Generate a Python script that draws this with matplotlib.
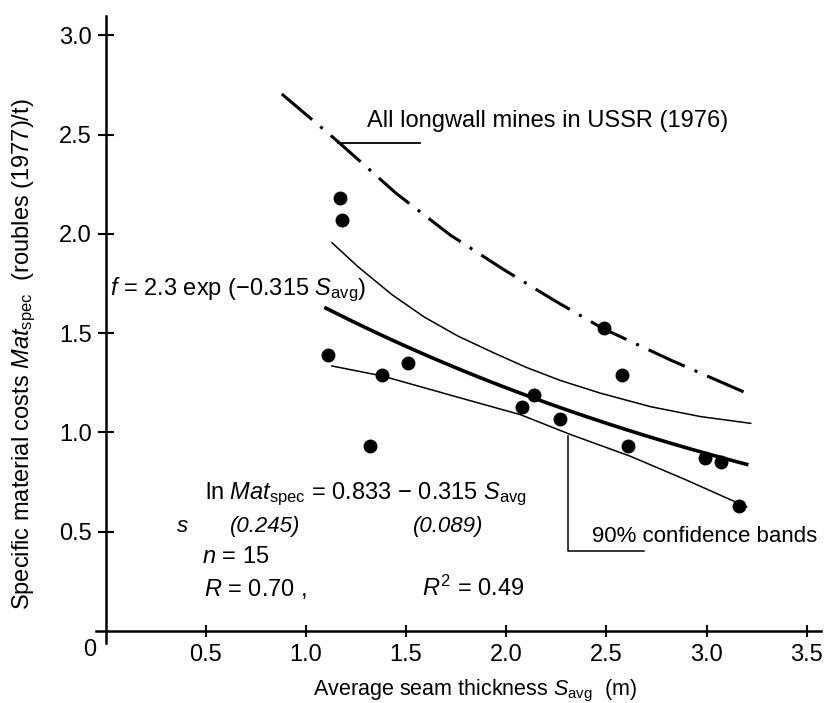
import numpy as np
import matplotlib
matplotlib.use("Agg")
import matplotlib.pyplot as plt

plt.rcParams["font.family"] = ["Liberation Sans", "DejaVu Sans"]
plt.rcParams["font.size"] = 17
plt.rcParams["mathtext.fontset"] = "custom"
plt.rcParams["mathtext.rm"] = "Liberation Sans"
plt.rcParams["mathtext.it"] = "Liberation Sans:italic"
plt.rcParams["mathtext.bf"] = "Liberation Sans:bold"

# %%
# mine observations: seam thickness (m) vs specific material costs
seam_thickness = [1.11, 1.17, 1.18, 1.32, 1.38, 1.51, 2.08, 2.14, 2.27,
                  2.49, 2.58, 2.61, 2.99, 3.07, 3.16]
material_costs = [1.39, 2.18, 2.07, 0.93, 1.29, 1.35, 1.13, 1.19, 1.07,
                  1.525, 1.29, 0.93, 0.87, 0.85, 0.63]

# fitted curve f = a exp(-b S_avg)
fit_a = 2.3
fit_b = 0.315
fit_range = (1.1, 3.2)

# 90% confidence bands
upper_x = [1.13, 1.26, 1.43, 1.59, 1.76, 1.94, 2.10, 2.27, 2.47, 2.72, 2.97, 3.22]
upper_y = [1.956, 1.835, 1.694, 1.582, 1.485, 1.400, 1.328, 1.262, 1.198, 1.130, 1.080, 1.046]
lower_x = [1.13, 1.38, 1.75, 2.07, 2.32, 2.62, 2.9, 3.2]
lower_y = [1.335, 1.285, 1.18, 1.09, 0.99, 0.88, 0.76, 0.625]

# all longwall mines in USSR (1976)
ussr_x = [0.88, 1.15, 1.45, 1.72, 1.99, 2.24, 2.48, 2.82, 3.22]
ussr_y = [2.705, 2.474, 2.205, 1.995, 1.819, 1.665, 1.525, 1.365, 1.189]

x_ticks = [0.5, 1.0, 1.5, 2.0, 2.5, 3.0, 3.5]
y_ticks = [0.5, 1.0, 1.5, 2.0, 2.5, 3.0]

# %%
fig = plt.figure(figsize=(8.27, 7.03), dpi=100)
ax = fig.add_axes([0.1155, 0.0855, 0.877, 0.8923])

s_fit = np.linspace(fit_range[0], fit_range[1], 100)
ax.plot(s_fit, fit_a * np.exp(-fit_b * s_fit), color="black", lw=2.6)
ax.plot(upper_x, upper_y, color="black", lw=1.1, solid_joinstyle="round")
ax.plot(lower_x, lower_y, color="black", lw=1.1, solid_joinstyle="round")
ax.plot(ussr_x, ussr_y, color="black", lw=2.2, linestyle=(0, (13, 3.5, 1, 3.5)))
ax.plot(seam_thickness, material_costs, "o", color="black", ms=9, mec="black")

# leader lines
ax.plot([1.16, 1.57], [2.46, 2.46], color="black", lw=1.3)
ax.plot([2.31, 2.31, 2.69], [0.98, 0.405, 0.405], color="black", lw=1.1)

ax.text(1.305, 2.54, "All longwall mines in USSR (1976)", ha="left", va="baseline")
ax.text(2.426, 0.45, "90% confidence bands", ha="left", va="baseline", fontsize=16)
ax.text(0.022, 1.693, "$f$ = 2.3 exp (\u22120.315 $S_{\\rm avg}$)", ha="left", va="baseline")
ax.text(0.496, 0.663, "ln $Mat_{\\rm spec}$ = 0.833 \u2212 0.315 $S_{\\rm avg}$",
        ha="left", va="baseline")
ax.text(0.357, 0.497, "s", style="italic", ha="left", va="baseline", fontsize=16)
ax.text(0.621, 0.50, "(0.245)", style="italic", ha="left", va="baseline", fontsize=16)
ax.text(1.534, 0.50, "(0.089)", style="italic", ha="left", va="baseline", fontsize=16)
ax.text(0.482, 0.341, "$n$ = 15", ha="left", va="baseline")
ax.text(0.491, 0.176, "$R$ = 0.70 ,", ha="left", va="baseline")
ax.text(1.579, 0.176, "$R^2$ = 0.49", ha="left", va="baseline")
ax.text(-0.077, -0.096, "0", ha="center", va="center", fontsize=17)

ax.set_xlim(-0.05, 3.57)
ax.set_ylim(-0.06, 3.10)
ax.spines["left"].set_position(("data", 0))
ax.spines["bottom"].set_position(("data", 0))
ax.spines["top"].set_visible(False)
ax.spines["right"].set_visible(False)
ax.spines["left"].set_linewidth(1.8)
ax.spines["bottom"].set_linewidth(1.8)

ax.set_xticks(x_ticks)
ax.set_xticklabels([f"{t:.1f}" for t in x_ticks])
ax.set_yticks(y_ticks)
ax.set_yticklabels([f"{t:.1f}" for t in y_ticks])
ax.tick_params(axis="x", direction="inout", length=8.6, width=1.5, pad=5, labelsize=17)
ax.tick_params(axis="y", direction="inout", length=12, width=1.5, pad=4, labelsize=17)

fig.text(0.574, 0.0114, "Average seam thickness $S_{\\rm avg}$  (m)",
         ha="center", va="baseline", fontsize=15.5)
fig.text(0.029, 0.4964, "Specific material costs $Mat_{\\rm spec}$  (roubles (1977)/t)",
         ha="center", va="center", rotation=90, fontsize=17)

fig.savefig("out.png", dpi=100)
